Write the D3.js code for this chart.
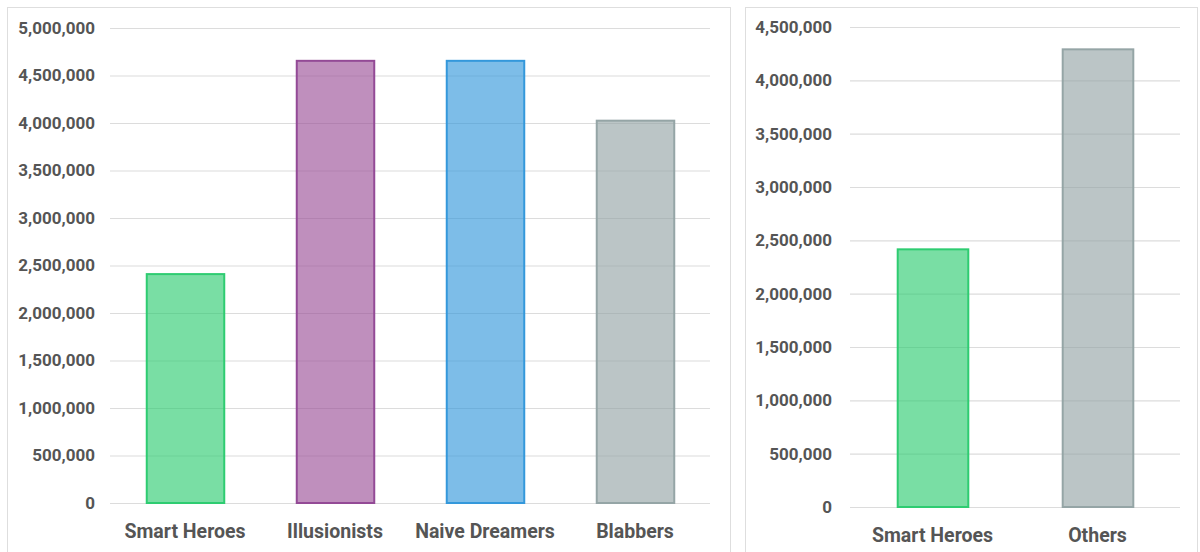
<!DOCTYPE html>
<html>
<head>
<meta charset="utf-8">
<script src="https://cdn.jsdelivr.net/npm/d3@7"></script>
<style>
  body { margin: 0; background: #fff; font-family: Roboto, "Noto Sans", sans-serif; }
  svg text { font-family: Roboto, "Noto Sans", sans-serif; }
</style>
</head>
<body>
<svg id="chart" width="1200" height="552"></svg>
<script>
// data
var groupCats = ["Smart Heroes", "Illusionists", "Naive Dreamers", "Blabbers"];
var groupValues = [2420000, 4665000, 4665000, 4035000];
var groupTicks = [0, 500000, 1000000, 1500000, 2000000, 2500000, 3000000, 3500000, 4000000, 4500000, 5000000];

var compareCats = ["Smart Heroes", "Others"];
var compareValues = [2425000, 4300000];
var compareTicks = [0, 500000, 1000000, 1500000, 2000000, 2500000, 3000000, 3500000, 4000000, 4500000];

var strokes = {
  "Smart Heroes": "#2ecc71",
  "Illusionists": "#934a96",
  "Naive Dreamers": "#3498db",
  "Blabbers": "#95a5a6",
  "Others": "#95a5a6"
};
var fills = {
  "Smart Heroes": "#2ecc71",
  "Illusionists": "#9b5098",
  "Naive Dreamers": "#3498db",
  "Blabbers": "#95a5a6",
  "Others": "#95a5a6"
};

var svg = d3.select("#chart");
var fmt = d3.format(",");

function drawPanel(box, plot, cats, values, ticks, pad) {
  // panel frame
  svg.append("rect")
    .attr("x", box.x + 0.5).attr("y", box.y + 0.5)
    .attr("width", box.w).attr("height", box.h)
    .attr("fill", "#fff")
    .attr("stroke", "#dedede");

  var x = d3.scaleBand()
    .domain(cats)
    .range([plot.x0, plot.x1])
    .paddingInner(pad).paddingOuter(pad / 2);

  var y = d3.scaleLinear()
    .domain([0, d3.max(ticks)])
    .range([plot.y0, plot.y1]);

  var g = svg.append("g");

  // grid
  g.append("g")
    .attr("transform", "translate(" + plot.x0 + ",0)")
    .call(d3.axisLeft(y).tickValues(ticks).tickSize(-(plot.x1 - plot.x0)).tickFormat(""))
    .call(a => a.select(".domain").remove())
    .call(a => a.selectAll("line").attr("stroke", "#dcdcdc").attr("stroke-width", 1.2));

  // tick labels
  g.append("g")
    .attr("transform", "translate(" + plot.lab + ",0)")
    .call(d3.axisLeft(y).tickValues(ticks).tickSize(0).tickPadding(0).tickFormat(fmt))
    .call(a => a.select(".domain").remove())
    .call(a => a.selectAll("text")
      .attr("fill", "#555").style("font-size", "17px").style("font-weight", "bold"));

  // bars
  g.selectAll(".bar")
    .data(cats).enter()
    .append("rect")
    .attr("class", "bar")
    .attr("x", d => x(d) + 1.5)
    .attr("width", x.bandwidth() - 2)
    .attr("y", (d, i) => y(values[i]) + 1)
    .attr("height", (d, i) => y(0) - y(values[i]) - 1)
    .attr("fill", d => fills[d])
    .attr("fill-opacity", 0.64)
    .attr("stroke", d => strokes[d])
    .attr("stroke-width", 2);

  // category labels
  g.append("g")
    .attr("transform", "translate(0," + plot.y0 + ")")
    .call(d3.axisBottom(x).tickSize(0).tickPadding(21))
    .call(a => a.select(".domain").remove())
    .call(a => a.selectAll("text")
      .attr("fill", "#555").style("font-size", "19.5px").style("font-weight", "bold"));
}

drawPanel({x: 7, y: 7, w: 723, h: 560},
  {x0: 110, x1: 710, y0: 503, y1: 28, lab: 95},
  groupCats, groupValues, groupTicks, 0.47);

drawPanel({x: 745, y: 7, w: 452, h: 560},
  {x0: 850, x1: 1180, y0: 507, y1: 27, lab: 832},
  compareCats, compareValues, compareTicks, 0.56);
</script>
</body>
</html>
